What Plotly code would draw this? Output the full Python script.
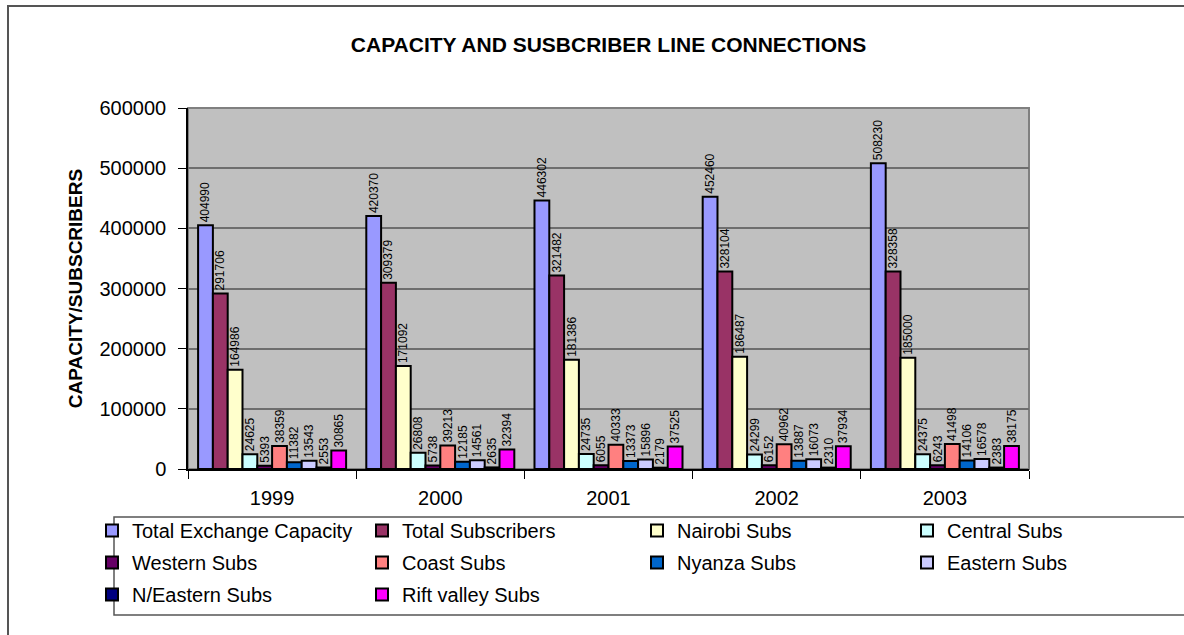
import plotly.graph_objects as go

years = ["1999", "2000", "2001", "2002", "2003"]

total_capacity = [404990, 420370, 446302, 452460, 508230]
total_subs = [291706, 309379, 321482, 328104, 328358]
nairobi = [164986, 171092, 181386, 186487, 185000]
central = [24625, 26808, 24735, 24299, 24375]
western = [5393, 5738, 6055, 6152, 6243]
coast = [38359, 39213, 40333, 40962, 41498]
nyanza = [11382, 12185, 13373, 13887, 14106]
eastern = [13543, 14561, 15896, 16073, 16578]
n_eastern = [2553, 2635, 2179, 2310, 2383]
rift_valley = [30865, 32394, 37525, 37934, 38175]

series = [
    ("Total Exchange Capacity", total_capacity, "#9999FF", "legend"),
    ("Total Subscribers", total_subs, "#993366", "legend2"),
    ("Nairobi Subs", nairobi, "#FFFFCC", "legend3"),
    ("Central Subs", central, "#CCFFFF", "legend4"),
    ("Western Subs", western, "#660066", "legend"),
    ("Coast Subs", coast, "#FF8080", "legend2"),
    ("Nyanza Subs", nyanza, "#0066CC", "legend3"),
    ("Eastern Subs", eastern, "#CCCCFF", "legend4"),
    ("N/Eastern Subs", n_eastern, "#000080", "legend"),
    ("Rift valley Subs", rift_valley, "#FF00FF", "legend2"),
]

FONT = "Liberation Sans, Arial, sans-serif"

fig = go.Figure()
for name, vals, color, lg in series:
    fig.add_trace(go.Bar(
        name=name, x=years, y=vals,
        marker=dict(color=color, line=dict(color="black", width=2)),
        text=[str(v) for v in vals],
        textposition="outside", textangle=-90,
        textfont=dict(family=FONT, size=12, color="black"),
        constraintext="none", cliponaxis=False,
        legend=lg, legendgroup=name,
    ))

W, H = 1184, 635
L, R, T, B = 188, 1184 - 1029, 108, 635 - 469
pw, ph = W - L - R, H - T - B

def fx(px):
    return (px - L) / pw

def fy(py):
    return (H - B - py) / ph

leg_common = dict(
    font=dict(family=FONT, size=20, color="black"),
    bgcolor="rgba(0,0,0,0)", borderwidth=0,
    yanchor="top", xanchor="left", y=fy(511),
    tracegroupgap=3, traceorder="grouped",
    itemclick=False, itemdoubleclick=False,
)

fig.update_layout(
    width=W, height=H,
    margin=dict(l=L, r=R, t=T, b=B),
    paper_bgcolor="white", plot_bgcolor="#C0C0C0",
    barmode="group", bargap=0.12, bargroupgap=0,
    font=dict(family=FONT, color="black"),
    title=dict(text="<b>CAPACITY AND SUSBCRIBER LINE CONNECTIONS</b>",
               font=dict(family=FONT, size=21, color="black"),
               x=0.5, xref="paper", xanchor="center",
               y=1 - 45 / H, yanchor="middle"),
    legend=dict(x=fx(92), **leg_common),
    legend2=dict(x=fx(362), **leg_common),
    legend3=dict(x=fx(637), **leg_common),
    legend4=dict(x=fx(907), **leg_common),
    xaxis=dict(
        showgrid=False, tickfont=dict(family=FONT, size=20, color="black"),
        ticks="outside", tickson="boundaries", ticklen=8, tickcolor="black",
        ticklabelstandoff=10,
        showline=True, linecolor="black", linewidth=1.5,
    ),
    yaxis=dict(
        range=[0, 600000], dtick=100000, tickformat="d",
        showgrid=True, gridcolor="#6E6E6E", gridwidth=1.5,
        ticks="outside", ticklen=8, tickcolor="black",
        ticklabelstandoff=8,
        showline=True, linecolor="black", linewidth=1.5,
        zeroline=False,
        tickfont=dict(family=FONT, size=20, color="black"),
        title=dict(text="<b>CAPACITY/SUBSCRIBERS</b>",
                   font=dict(family=FONT, size=19, color="black"),
                   standoff=12),
    ),
    shapes=[
        dict(type="rect", xref="paper", yref="paper", x0=0, x1=1, y0=0, y1=1,
             line=dict(color="#808080", width=2), layer="below"),
        dict(type="rect", xref="paper", yref="paper",
             x0=fx(114), x1=fx(1195), y0=fy(615), y1=fy(517),
             line=dict(color="#555555", width=1.5)),
        dict(type="rect", xref="paper", yref="paper",
             x0=fx(8), x1=fx(1200), y0=fy(650), y1=fy(6),
             line=dict(color="#555555", width=2)),
    ],
)

fig.write_html("out.html")
